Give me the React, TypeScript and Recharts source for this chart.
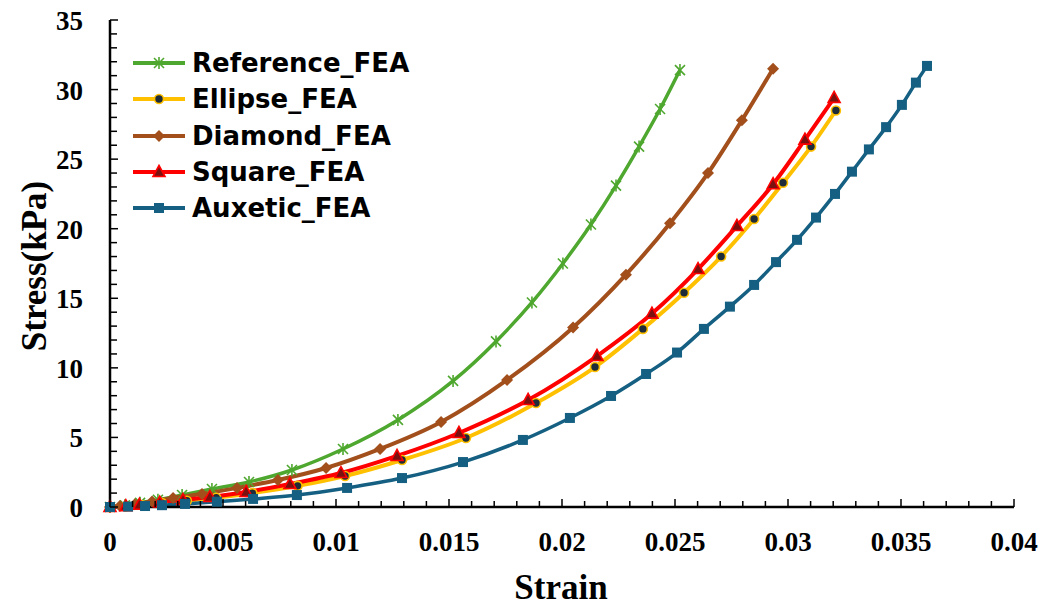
import { LineChart, Line, XAxis, YAxis, Legend } from 'recharts';

// strain / stress pairs
const refStrain = [0, 0.00066, 0.00133, 0.00212, 0.00319, 0.00451, 0.00615, 0.00805, 0.01031, 0.01274, 0.01518, 0.01708, 0.01867, 0.02004, 0.02128, 0.02239, 0.02341, 0.02434, 0.02522];
const refStress = [0, 0.12, 0.3, 0.52, 0.86, 1.29, 1.8, 2.66, 4.17, 6.26, 9.06, 11.9, 14.7, 17.5, 20.3, 23.1, 25.9, 28.6, 31.4];

const ellStrain = [0, 0.0007, 0.0014, 0.0023, 0.0034, 0.0047, 0.0063, 0.0083, 0.0104, 0.01292, 0.01575, 0.01885, 0.02146, 0.02358, 0.0254, 0.02704, 0.0285, 0.02978, 0.03102, 0.03212];
const ellStress = [0, 0.05, 0.14, 0.28, 0.45, 0.66, 1.0, 1.52, 2.23, 3.38, 4.96, 7.47, 10.06, 12.8, 15.4, 18.0, 20.7, 23.3, 25.9, 28.5];

const diaStrain = [0, 0.00044, 0.0011, 0.00186, 0.00279, 0.00407, 0.00562, 0.00743, 0.00956, 0.01195, 0.01465, 0.01757, 0.02049, 0.02283, 0.02478, 0.02646, 0.02796, 0.02934];
const diaStress = [0, 0.08, 0.2, 0.4, 0.65, 0.93, 1.37, 1.94, 2.8, 4.17, 6.11, 9.13, 12.9, 16.7, 20.4, 24.0, 27.8, 31.5];

const sqStrain = [0, 0.0007, 0.0013, 0.0022, 0.00323, 0.00442, 0.00602, 0.00796, 0.01022, 0.0127, 0.01544, 0.0185, 0.02155, 0.02398, 0.02602, 0.02774, 0.02934, 0.03075, 0.03204];
const sqStress = [0, 0.06, 0.16, 0.32, 0.5, 0.72, 1.08, 1.65, 2.44, 3.67, 5.32, 7.69, 10.85, 13.9, 17.1, 20.2, 23.2, 26.4, 29.4];

const auxStrain = [0, 0.0008, 0.00155, 0.0023, 0.00332, 0.00473, 0.00633, 0.00827, 0.01049, 0.01292, 0.01562, 0.01827, 0.02035, 0.02217, 0.02372, 0.02509, 0.02628, 0.02743, 0.0285, 0.02947, 0.0304, 0.03124, 0.03208, 0.03283, 0.03358, 0.03434, 0.03504, 0.03566, 0.03615];
const auxStress = [0, 0.03, 0.07, 0.13, 0.22, 0.38, 0.58, 0.86, 1.37, 2.08, 3.23, 4.82, 6.4, 7.98, 9.56, 11.1, 12.8, 14.4, 15.96, 17.6, 19.2, 20.8, 22.5, 24.1, 25.7, 27.3, 28.9, 30.5, 31.7];

const xTicks = Array.from({ length: 41 }, (_, i) => i / 1000);
const yTicks = Array.from({ length: 36 }, (_, i) => i);

const pts = (xs: number[], ys: number[]) => xs.map((x, i) => ({ x, y: ys[i] }));

const serif = '"Liberation Serif", "Times New Roman", serif';

const Marker = ({ kind, cx, cy }: { kind: string; cx: number; cy: number }) => {
  if (kind === 'star')
    return (
      <g stroke="#4EA72E" strokeWidth={1.6}>
        <line x1={cx - 5} y1={cy - 5} x2={cx + 5} y2={cy + 5} />
        <line x1={cx - 5} y1={cy + 5} x2={cx + 5} y2={cy - 5} />
        <line x1={cx} y1={cy - 6} x2={cx} y2={cy + 6} />
      </g>
    );
  if (kind === 'circle')
    return <circle cx={cx} cy={cy} r={4.5} fill="#1E2B38" stroke="#FFC000" strokeWidth={1.6} />;
  if (kind === 'diamond')
    return <polygon points={`${cx},${cy - 6} ${cx + 6},${cy} ${cx},${cy + 6} ${cx - 6},${cy}`} fill="#A24F1C" />;
  if (kind === 'triangle')
    return (
      <polygon
        points={`${cx},${cy - 6.5} ${cx + 6},${cy + 4.5} ${cx - 6},${cy + 4.5}`}
        fill="#7A1010"
        stroke="#FF0000"
        strokeWidth={1.6}
      />
    );
  return <rect x={cx - 5} y={cy - 5} width={10} height={10} fill="#156082" />;
};

const series = [
  { name: 'Reference_FEA', data: pts(refStrain, refStress), color: '#4EA72E', marker: 'star', width: 3.5 },
  { name: 'Ellipse_FEA', data: pts(ellStrain, ellStress), color: '#FFC000', marker: 'circle', width: 4 },
  { name: 'Diamond_FEA', data: pts(diaStrain, diaStress), color: '#A24F1C', marker: 'diamond', width: 4 },
  { name: 'Square_FEA', data: pts(sqStrain, sqStress), color: '#FF0000', marker: 'triangle', width: 4 },
  { name: 'Auxetic_FEA', data: pts(auxStrain, auxStress), color: '#156082', marker: 'square', width: 3.5 },
];

const fmtX = (v: number) => String(Number(v.toFixed(3)));

const XTick = (p: any) => {
  const { x, y, payload } = p;
  const major = Math.round(payload.value * 1000) % 5 === 0;
  return (
    <g>
      <line x1={x} x2={x} y1={y} y2={y - (major ? 8 : 6)} stroke="#000" strokeWidth={1.5} />
      {major && (
        <text x={x} y={y + 35} textAnchor="middle" dominantBaseline="central" fontFamily={serif} fontWeight="bold" fontSize={27} fill="#000">
          {fmtX(payload.value)}
        </text>
      )}
    </g>
  );
};

const YTick = (p: any) => {
  const { x, y, payload } = p;
  const major = Math.round(payload.value) % 5 === 0;
  return (
    <g>
      <line x1={x} x2={x + (major ? 8 : 7)} y1={y} y2={y} stroke="#000" strokeWidth={1.5} />
      {major && (
        <text x={x - 27} y={y + 1} textAnchor="end" dominantBaseline="central" fontFamily={serif} fontWeight="bold" fontSize={27} fill="#000">
          {payload.value}
        </text>
      )}
    </g>
  );
};

const renderLegend = () => (
  <div>
    {series.map((s) => (
      <div key={s.name} style={{ display: 'flex', alignItems: 'center', height: 36.3 }}>
        <svg width={56} height={36}>
          <line x1={2} x2={54} y1={18} y2={18} stroke={s.color} strokeWidth={4} />
          <Marker kind={s.marker} cx={28} cy={18} />
        </svg>
        <span
          style={{
            marginLeft: 5,
            fontFamily: '"DejaVu Sans", sans-serif',
            fontWeight: 'bold',
            fontSize: 26,
            color: '#000',
            lineHeight: '36px',
          }}
        >
          {s.name}
        </span>
      </div>
    ))}
  </div>
);

const StrainTitle = () => (
  <text x={561} y={599} textAnchor="middle" fontFamily={serif} fontWeight="bold" fontSize={35} fill="#000">
    Strain
  </text>
);

const StressTitle = () => (
  <text
    x={34}
    y={266}
    transform="rotate(-90 34 266)"
    textAnchor="middle"
    dominantBaseline="central"
    fontFamily={serif}
    fontWeight="bold"
    fontSize={35}
    fill="#000"
  >
    Stress(kPa)
  </text>
);

export default function App() {
  return (
    <div style={{ position: 'absolute', left: 0, top: 0, width: 1056, height: 606, background: '#fff' }}>
      <LineChart width={1056} height={606} margin={{ top: 20, right: 42, bottom: 0, left: 0 }}>
        <XAxis
          type="number"
          dataKey="x"
          domain={[0, 0.04]}
          ticks={xTicks}
          interval={0}
          height={99}
          tickSize={0}
          tickMargin={0}
          tick={<XTick />}
          axisLine={{ stroke: '#000', strokeWidth: 2.5 }}
          label={<StrainTitle />}
        />
        <XAxis
          xAxisId="top"
          orientation="top"
          type="number"
          dataKey="x"
          domain={[0, 0.04]}
          height={0}
          tick={false}
          tickLine={false}
          axisLine={{ stroke: '#000', strokeWidth: 2.5 }}
        />
        <YAxis
          type="number"
          domain={[0, 35]}
          ticks={yTicks}
          interval={0}
          width={110}
          tickSize={0}
          tickMargin={0}
          tick={<YTick />}
          axisLine={{ stroke: '#000', strokeWidth: 2.5 }}
          label={<StressTitle />}
        />
        <YAxis
          yAxisId="right"
          orientation="right"
          type="number"
          domain={[0, 35]}
          width={0}
          tick={false}
          tickLine={false}
          axisLine={{ stroke: '#000', strokeWidth: 2.5 }}
        />
        <Legend
          layout="vertical"
          align="center"
          verticalAlign="middle"
          content={renderLegend}
          wrapperStyle={{ left: 131, top: 45, width: 320, height: 185 }}
        />
        {series.map((s) => (
          <Line
            key={s.name}
            data={s.data}
            dataKey="y"
            name={s.name}
            type="monotone"
            stroke={s.color}
            strokeWidth={s.width}
            isAnimationActive={false}
            activeDot={false}
            dot={(p: any) => <Marker key={`${s.name}-${p.index}`} kind={s.marker} cx={p.cx} cy={p.cy} />}
          />
        ))}
      </LineChart>
    </div>
  );
}
